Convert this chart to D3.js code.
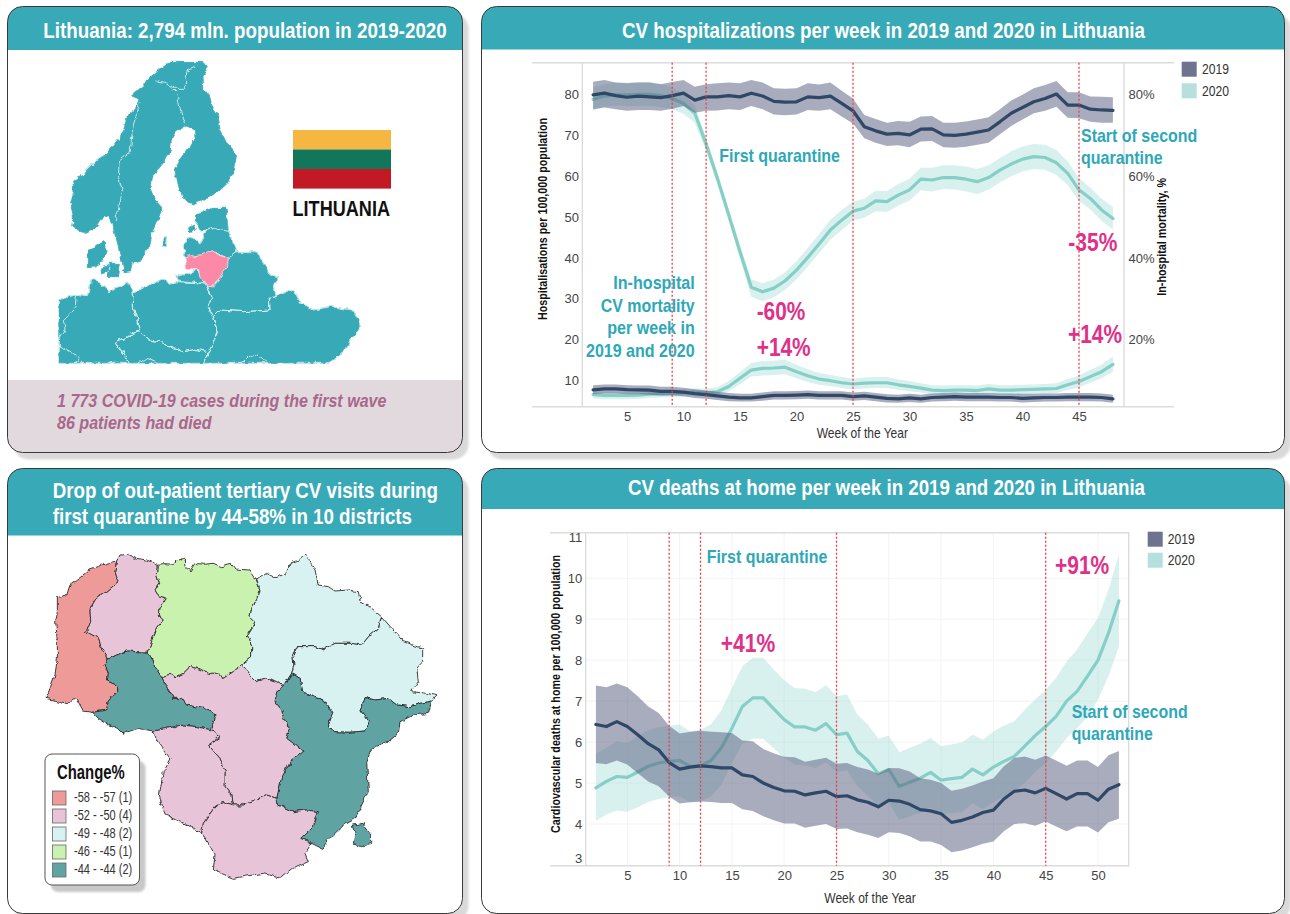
<!DOCTYPE html>
<html><head><meta charset="utf-8">
<script src="https://cdn.jsdelivr.net/npm/d3@7"></script>
<style>html,body{margin:0;padding:0;background:#fff}svg{display:block}
text{font-family:"Liberation Sans Narrow","Liberation Sans",Arial,sans-serif}</style></head>
<body><svg id="c" width="1290" height="914"></svg>
<script>
// ---------- chart 1: hospitalisations + mortality ----------
const weeksA=[2,3,4,5,6,7,8,9,10,11,12,13,14,15,16,17,18,19,20,21,22,23,24,25,26,27,28,29,30,31,32,33,34,35,36,37,38,39,40,41,42,43,44,45,46,47,48];
const hosp19=[79.8,80.2,79.6,79.2,79.5,79.3,79.1,79.6,80.2,78.5,79.3,79.3,79.6,79.3,80.2,79.5,78.2,78,78.1,79.3,79.1,79.5,77.7,75.9,72,71,70.2,70.4,70,71.4,71.5,70,69.9,70.2,70.7,71.2,73.2,75.3,76.7,78.1,78.9,80,77.3,77.3,76.3,76.1,76];
const hosp19hi=[83,83.4,82.8,82.6,82.8,82.8,82.4,82.9,83.4,81.8,82.4,82.6,82.8,82.6,83.4,82.8,81.4,81.3,81.4,82.6,82.3,82.8,80.8,78.9,74.9,73.9,73,73.4,73.2,74.5,74.6,73,73,73.3,73.8,74.3,76.3,78.4,79.8,81.4,82.2,83.2,80.4,80.4,79.4,79.3,79.2];
const hosp19lo=[76.3,76.7,76.3,75.9,76.1,76.1,75.9,76.4,77.1,75.4,75.9,76,76.3,76.1,77.1,76.3,75,74.8,75,76.1,75.9,76.3,74.5,72.8,69.2,68.1,67.3,67.5,67,68.4,68.5,67,66.9,67.1,67.6,68.1,70.2,72.2,73.8,75.3,75.9,76.9,74.2,74.1,73.2,73,73];
const hosp20=[78.7,79.5,79.8,79.8,79.9,79.9,79.6,78.9,77.7,75.3,67.8,59.4,50.5,41.5,32.8,31.7,32.6,34.4,37,40.1,43.4,46.8,49.2,51.4,52.1,53.9,53.7,55.3,56.6,59.2,59,59.6,59.6,59.2,58.6,59.6,61.4,62.9,64.1,64.7,64.5,63.2,60.6,56.6,54.5,51.7,49.6];
const hosp20hi=[81.6,82.4,82.8,82.8,82.9,82.9,82.5,81.6,80,77.2,69.3,60.7,51.8,43,34.8,33.8,34.7,36.5,39.2,42.4,45.8,49.3,51.7,53.7,54.4,56.4,56.3,58,59.3,62,62,62.6,62.6,62.3,61.7,62.6,64.4,66,67.2,67.8,67.6,66.3,63.5,59.4,57.2,54.4,52.4];
const hosp20lo=[76,76.9,77.2,77.1,77.1,77,76.8,76.2,75.2,73,66,57.9,49,39.8,30.5,29.4,30.4,32.2,34.8,37.8,41.2,44.4,46.8,49.1,49.8,51.4,51.2,52.7,54,56.5,56.2,56.8,56.7,56.2,55.6,56.6,58.4,59.9,61.1,61.7,61.5,60.2,57.7,53.9,51.8,49,46.9];
const mort19=[7.75,8,8,7.8,7.75,7.7,7.4,7.4,7.2,6.85,6.6,6.3,6,5.8,5.8,6.1,6.4,6.4,6.5,6.6,6.4,6.4,6.4,6.1,6.3,6,5.7,5.55,5.8,5.55,5.9,6,6.1,6,6,6,5.9,5.9,5.7,5.8,5.9,5.9,6,6,6,5.9,5.55];
const mort19hi=[8.9,9.1,9.1,8.9,8.8,8.8,8.5,8.5,8.3,7.9,7.6,7.3,7,6.8,6.8,7.1,7.4,7.4,7.5,7.6,7.4,7.4,7.4,7.1,7.3,7,6.7,6.6,6.8,6.6,6.9,7,7.1,7,7,7,6.9,6.9,6.8,6.8,6.9,6.9,7,7,7,6.9,6.6];
const mort19lo=[6.7,6.9,6.9,6.7,6.7,6.6,6.4,6.4,6.2,5.8,5.6,5.3,5,4.9,4.9,5.1,5.4,5.4,5.5,5.6,5.4,5.4,5.4,5.1,5.3,5,4.7,4.6,4.8,4.6,4.9,5,5.1,5,5,5,4.9,4.9,4.7,4.8,4.9,4.9,5,5,5,4.9,4.6];
const mort20=[6.6,6.4,6.4,6.4,6.5,6.7,6.8,6.9,7,7.2,7.1,7.3,8.6,10.6,12.6,13,13.1,13.3,12.2,11.2,10.4,10,9.5,9.2,9.4,9.5,9.5,9,8.6,8.2,7.7,7.6,7.7,7.7,7.6,8,7.7,7.7,7.8,7.9,8,8.1,9,9.8,11,12.2,14];
const mort20hi=[7.5,7.3,7.3,7.3,7.4,7.6,7.7,7.8,7.9,8.1,8.1,8.4,9.9,12.1,14.3,14.8,14.9,15.1,13.9,12.8,11.9,11.4,10.9,10.5,10.8,10.9,10.9,10.3,9.9,9.4,8.9,8.8,8.9,8.9,8.8,9.2,8.9,8.9,9,9.1,9.2,9.4,10.4,11.3,12.6,13.9,15.9];
const mort20lo=[5.7,5.5,5.5,5.5,5.6,5.8,5.9,6,6.1,6.3,6.2,6.3,7.4,9.2,11,11.3,11.4,11.6,10.6,9.7,9,8.7,8.2,7.9,8.1,8.2,8.2,7.8,7.4,7.1,6.6,6.5,6.6,6.6,6.5,6.9,6.6,6.6,6.7,6.8,6.9,7,7.7,8.4,9.5,10.6,12.2];
// ---------- chart 2: deaths at home ----------
const weeksB=[2,3,4,5,6,7,8,9,10,11,12,13,14,15,16,17,18,19,20,21,22,23,24,25,26,27,28,29,30,31,32,33,34,35,36,37,38,39,40,41,42,43,44,45,46,47,48,49,50,51,52];
const home19=[6.43,6.38,6.5,6.38,6.18,5.96,5.81,5.5,5.34,5.39,5.42,5.4,5.37,5.37,5.2,5.16,5,4.89,4.81,4.8,4.71,4.76,4.8,4.67,4.69,4.59,4.53,4.42,4.58,4.56,4.48,4.35,4.32,4.25,4.04,4.09,4.17,4.28,4.34,4.61,4.8,4.83,4.76,4.87,4.74,4.61,4.74,4.74,4.58,4.85,4.96];
const home19hi=[7.38,7.34,7.43,7.34,7.12,6.87,6.71,6.4,6.21,6.25,6.28,6.25,6.24,6.22,6.04,6.02,5.83,5.73,5.64,5.63,5.52,5.57,5.62,5.47,5.49,5.39,5.33,5.23,5.37,5.36,5.28,5.12,5.08,5,4.81,4.86,4.94,5.04,5.12,5.41,5.61,5.65,5.57,5.67,5.55,5.42,5.55,5.55,5.39,5.68,5.78];
const home19lo=[5.49,5.46,5.55,5.45,5.24,5.04,4.92,4.67,4.5,4.53,4.55,4.54,4.51,4.51,4.36,4.32,4.19,4.09,4.01,4.01,3.91,3.96,4,3.88,3.89,3.8,3.74,3.66,3.8,3.78,3.7,3.57,3.57,3.49,3.31,3.35,3.43,3.52,3.57,3.82,4,4.02,3.96,4.06,3.94,3.82,3.94,3.94,3.79,4.04,4.13];
const home20=[4.88,5.04,5.16,5.14,5.27,5.41,5.49,5.53,5.55,5.41,5.42,5.55,5.86,6.34,6.87,7.08,7.08,6.81,6.55,6.37,6.37,6.29,6.45,6.18,6.22,5.77,5.55,5.23,5.33,4.92,5.02,5.12,5.26,5.07,5.11,5.14,5.34,5.2,5.39,5.53,5.65,5.9,6.16,6.38,6.63,7,7.24,7.61,8,8.66,9.45];
const home20hi=[5.72,5.86,6.02,5.98,6.14,6.29,6.37,6.4,6.43,6.26,6.3,6.43,6.78,7.32,7.85,8.06,8.06,7.77,7.51,7.32,7.3,7.22,7.39,7.12,7.16,6.67,6.43,6.08,6.16,5.75,5.86,5.96,6.1,5.9,5.94,5.99,6.18,6.06,6.26,6.4,6.51,6.79,7.04,7.28,7.57,7.97,8.26,8.66,9.03,9.72,10.58];
const home20lo=[4.08,4.23,4.33,4.3,4.41,4.54,4.61,4.66,4.67,4.53,4.55,4.67,4.96,5.49,5.96,6.08,6.08,5.85,5.61,5.45,5.43,5.37,5.51,5.27,5.31,4.92,4.69,4.41,4.51,4.1,4.19,4.27,4.41,4.23,4.27,4.29,4.51,4.36,4.53,4.67,4.8,5,5.27,5.49,5.77,6.1,6.34,6.63,7.04,7.61,8.34];
// ---------- ticks / labels ----------
const weekTicksA=[5,10,15,20,25,30,35,40,45];
const weekTicksB=[5,10,15,20,25,30,35,40,45,50];
const hospTicks=[10,20,30,40,50,60,70,80];
const mortTicks=[20,40,60,80];
const homeTicks=[3,4,5,6,7,8,9,10,11];
const quarantineWeeks=[9,12,25,45];
const legendYears=["2019","2020"];
// ---------- choropleth ----------
const legendLabels=["-58 - -57 (1)","-52 - -50 (4)","-49 - -48 (2)","-46 - -45 (1)","-44 - -44 (2)"];
const legendColors=["#ee9a98","#e8c4d8","#d8f2f2","#c8f2ae","#60a3a3"];
const districts=[
 {k:0,p:[[350,288],[320,295],[300,302],[270,312],[240,338],[210,360],[200,390],[172,398],[172,440],[167,470],[172,530],[172,580],[165,630],[150,670],[138,700],[205,716],[228,698],[250,738],[278,742],[320,735],[325,705],[350,680],[350,660],[322,648],[325,625],[315,600],[325,582],[305,550],[295,520],[260,500],[272,470],[270,435],[290,400],[320,380],[355,350],[345,320]]},
 {k:1,p:[[350,288],[360,270],[385,268],[410,280],[440,285],[472,298],[470,330],[478,355],[465,375],[475,392],[496,398],[490,415],[478,425],[475,450],[490,465],[470,490],[455,530],[445,562],[410,560],[380,558],[350,570],[325,582],[305,550],[295,520],[260,500],[272,470],[270,435],[290,400],[320,380],[355,350],[345,320]]},
 {k:3,p:[[472,298],[490,296],[520,298],[540,280],[553,285],[555,305],[570,318],[585,295],[610,298],[640,295],[665,305],[695,298],[705,312],[750,315],[770,345],[780,375],[775,395],[755,430],[750,455],[765,470],[755,490],[742,510],[755,540],[755,575],[725,600],[700,620],[670,640],[660,625],[625,625],[600,612],[570,605],[550,625],[525,638],[510,628],[485,635],[465,605],[445,562],[455,530],[470,490],[490,465],[475,450],[478,425],[490,415],[496,398],[475,392],[465,375],[478,355],[470,330]]},
 {k:2,p:[[770,345],[800,325],[825,338],[860,325],[870,295],[895,285],[918,265],[930,290],[945,315],[955,360],[985,365],[1005,378],[1045,375],[1075,380],[1080,405],[1115,430],[1145,455],[1135,490],[1110,510],[1085,540],[1050,535],[1005,535],[970,555],[945,545],[890,545],[878,570],[882,600],[875,625],[850,665],[830,650],[800,640],[770,650],[745,625],[725,600],[755,575],[755,540],[742,510],[755,490],[765,470],[750,455],[755,430],[775,395],[780,375]]},
 {k:2,p:[[1145,455],[1175,490],[1210,530],[1268,550],[1268,590],[1250,610],[1255,650],[1235,680],[1280,685],[1312,692],[1295,708],[1260,715],[1230,725],[1190,720],[1165,700],[1125,705],[1095,698],[1080,735],[1108,770],[1095,798],[1050,802],[1000,800],[985,780],[998,745],[970,705],[940,695],[908,680],[900,640],[875,625],[882,600],[878,570],[890,545],[945,545],[970,555],[1005,535],[1050,535],[1085,540],[1110,510],[1135,490]]},
 {k:4,p:[[875,625],[900,640],[908,680],[940,695],[970,705],[998,745],[985,780],[1000,800],[1050,802],[1095,798],[1108,770],[1080,735],[1095,698],[1125,705],[1165,700],[1190,720],[1230,725],[1260,715],[1295,708],[1285,745],[1240,750],[1200,770],[1195,805],[1165,830],[1115,850],[1100,890],[1105,980],[1085,1020],[1065,1060],[1030,1080],[990,1120],[965,1150],[935,1135],[905,1120],[940,1085],[955,1040],[920,1035],[880,1040],[835,1020],[830,1000],[845,935],[870,890],[910,860],[880,835],[860,820],[870,790],[850,760],[845,735],[825,710],[830,680],[850,665]]},
 {k:4,p:[[1060,1080],[1090,1075],[1097,1095],[1112,1105],[1112,1135],[1085,1145],[1060,1135],[1065,1105]]},
 {k:4,p:[[325,582],[350,570],[380,558],[410,560],[445,562],[465,605],[485,635],[500,665],[520,700],[545,700],[560,720],[610,730],[645,745],[635,795],[590,785],[550,780],[500,790],[460,798],[415,790],[370,805],[355,790],[320,775],[295,760],[278,742],[320,735],[325,705],[350,680],[350,660],[322,648],[325,625],[315,600]]},
 {k:1,p:[[485,635],[510,628],[525,638],[550,625],[570,605],[600,612],[625,625],[660,625],[670,640],[700,620],[725,600],[745,625],[770,650],[800,640],[830,650],[850,665],[830,680],[825,710],[845,735],[850,760],[870,790],[860,820],[880,835],[910,860],[870,890],[845,935],[830,1000],[800,990],[770,1005],[730,1020],[700,1020],[695,990],[675,965],[675,920],[660,880],[625,840],[660,815],[635,795],[645,745],[610,730],[560,720],[545,700],[520,700],[500,665]]},
 {k:1,p:[[460,798],[500,790],[550,780],[590,785],[635,795],[660,815],[625,840],[660,880],[675,920],[675,965],[695,990],[700,1020],[670,1010],[645,1025],[610,1075],[605,1105],[560,1080],[495,1050],[478,990],[490,920],[510,880],[470,825]]},
 {k:1,p:[[610,1075],[645,1025],[670,1010],[700,1020],[730,1020],[770,1005],[800,990],[830,1000],[835,1020],[880,1040],[920,1035],[955,1040],[940,1085],[905,1120],[935,1135],[915,1165],[925,1190],[880,1210],[840,1240],[790,1225],[700,1240],[640,1215],[645,1170],[620,1125],[605,1105]]}
];
// ---------- Europe outline ----------
const europe=[
 [[505,187],[612,187],[625,203],[606,225],[608,262],[628,288],[635,318],[655,352],[660,388],[680,430],[710,465],[700,510],[682,550],[650,580],[612,598],[580,615],[545,590],[535,555],[525,510],[545,470],[570,440],[585,410],[583,390],[555,378],[530,392],[514,418],[512,450],[480,505],[455,530],[450,565],[465,600],[492,630],[470,665],[455,700],[450,735],[425,780],[400,785],[395,812],[372,815],[360,760],[345,705],[338,670],[325,650],[300,660],[285,685],[250,700],[215,678],[220,650],[212,610],[222,575],[218,540],[245,530],[260,510],[295,475],[320,465],[345,430],[360,410],[375,385],[385,345],[415,315],[420,295],[395,285],[405,275],[430,262],[440,240],[465,220],[480,205]],
 [[265,750],[283,745],[292,735],[312,725],[318,755],[310,775],[300,790],[285,798],[262,800],[262,775]],
 [[302,800],[325,795],[322,815],[305,822]],[[330,790],[358,790],[352,830],[325,830]],
 [[590,645],[635,625],[678,625],[685,695],[640,685],[600,690],[588,665]],
 [[566,680],[580,672],[586,690],[568,695]],[[488,720],[500,708],[497,735],[487,742]],
 [[555,775],[553,730],[575,712],[600,732],[620,692],[640,685],[685,695],[710,755],[685,775],[640,755],[600,765]],
 [[530,830],[595,812],[600,830],[615,850],[590,848],[535,840]],
 [[685,775],[710,755],[770,755],[790,790],[810,825],[835,830],[820,860],[825,890],[808,895],[810,930],[730,935],[660,930],[640,950],[625,925],[637,895],[622,855],[650,855],[665,820],[680,800]],
 [[640,950],[660,930],[730,935],[810,930],[808,895],[850,880],[880,870],[900,905],[940,930],[990,920],[1060,930],[1075,960],[1080,990],[1050,1020],[1040,1045],[990,1090],[610,1090],[625,1055],[655,995]],
 [[400,880],[445,855],[495,838],[505,850],[530,845],[590,848],[622,855],[637,895],[625,925],[640,950],[655,995],[625,1055],[585,1048],[550,1055],[520,1045],[480,1025],[450,1020],[420,995],[400,920]],
 [[175,900],[225,885],[262,890],[272,838],[300,850],[330,875],[385,850],[400,880],[400,920],[420,995],[345,1025],[390,1090],[175,1090]],
 [[345,1025],[420,995],[450,1020],[480,1025],[520,1045],[550,1055],[585,1048],[625,1055],[610,1090],[390,1090]]
];
const europeBorders=[
 [[470,245],[495,250],[530,280],[545,345],[555,378]],
 [[495,250],[520,265],[555,265],[560,215],[590,198]],
 [[420,310],[400,375],[390,455],[358,480],[355,530],[368,575],[345,665]],
 [[175,1040],[195,1050],[240,1070],[228,1090]],[[230,885],[225,920],[190,960],[195,990],[175,1020]],
 [[725,1090],[745,1070],[770,1062],[805,1090]],[[415,1090],[440,1075],[470,1085]]
];
const lithuania=[[555,775],[575,768],[600,765],[615,760],[635,755],[655,765],[685,775],[683,795],[670,815],[660,835],[640,858],[620,855],[600,832],[597,812],[560,808]];

const svg=d3.select("#c");
const defs=svg.append("defs");
defs.append("filter").attr("id","soft").append("feGaussianBlur").attr("stdDeviation",0.8);
function roughFilter(id,freq,scale){
 const f=defs.append("filter").attr("id",id).attr("x","-5%").attr("y","-5%").attr("width","110%").attr("height","110%").attr("color-interpolation-filters","sRGB");
 f.append("feTurbulence").attr("type","fractalNoise").attr("baseFrequency",freq).attr("numOctaves",2).attr("seed",4).attr("result","n");
 f.append("feDisplacementMap").attr("in","SourceGraphic").attr("in2","n").attr("xChannelSelector","R").attr("yChannelSelector","G").attr("scale",scale);
}
roughFilter("rough",0.16,5);
roughFilter("rough2",0.14,6);

const HEAD="#38a9b7", TEAL="#2ea8b8", PINK="#e0308a";
function txt(g,x,y,s,size,o={}){
  const t=g.append("text").attr("x",x).attr("y",y).attr("font-size",size).text(s)
    .attr("fill",o.fill||"#222").attr("font-weight",o.bold?"bold":"normal");
  if(o.italic)t.attr("font-style","italic");
  if(o.anchor)t.attr("text-anchor",o.anchor);
  if(o.w)t.attr("textLength",o.w).attr("lengthAdjust","spacingAndGlyphs");
  if(o.rot)t.attr("transform",`rotate(-90 ${x} ${y})`);
  return t;
}
function panel(id,x,y,w,h,hh){
  const g=svg.append("g");
  g.append("rect").attr("x",x+6).attr("y",y+7).attr("width",w).attr("height",h).attr("rx",15).attr("fill","#d9d9d9").attr("filter","url(#soft)");
  g.append("rect").attr("x",x).attr("y",y).attr("width",w).attr("height",h).attr("rx",15).attr("fill","#fff");
  defs.append("clipPath").attr("id",id).append("rect").attr("x",x).attr("y",y).attr("width",w).attr("height",h).attr("rx",15);
  g.append("rect").attr("x",x).attr("y",y).attr("width",w).attr("height",hh).attr("fill",HEAD).attr("clip-path",`url(#${id})`);
  return ()=>svg.append("rect").attr("x",x).attr("y",y).attr("width",w).attr("height",h).attr("rx",15).attr("fill","none").attr("stroke","#3a3a3a").attr("stroke-width",1);
}
const b1=panel("p1",7.5,6.5,455,446,43.5);
const b2=panel("p2",481.5,6.5,803,446,43);
const b3=panel("p3",7.5,468.5,455,445,67);
const b4=panel("p4",481.5,468.5,803,445,40.5);

// ---- panel 1
svg.append("rect").attr("x",8).attr("y",380).attr("width",454).attr("height",72).attr("fill","#e2d9df").attr("clip-path","url(#p1)");
txt(svg,43.3,38,"Lithuania: 2,794 mln. population in 2019-2020",21.5,{fill:"#fff",bold:true,w:403.4});
const zx=d3.scaleLinear().domain([0,1410]).range([0,470]);
const zy=d3.scaleLinear().domain([0,1380]).range([0,460]);
const eline=d3.line().x(d=>zx(d[0])).y(d=>zy(d[1]));
const em=svg.append("g").attr("filter","url(#rough2)");
em.selectAll("path.e").data(europe).join("path").attr("class","e").attr("d",d=>eline(d)+"Z").attr("fill","#38a9b7").attr("stroke","#38a9b7").attr("stroke-width",0.8).attr("stroke-linejoin","round");
em.selectAll("path.i").data(europe.slice(6)).join("path").attr("class","i").attr("d",d=>eline(d)+"Z").attr("fill","none").attr("stroke","#d8f0f2").attr("stroke-width",0.9).attr("stroke-linejoin","round");
em.selectAll("path.b").data(europeBorders).join("path").attr("class","b").attr("d",d=>eline(d)).attr("fill","none").attr("stroke","#d8f0f2").attr("stroke-width",0.9);
em.append("path").attr("d",eline(lithuania)+"Z").attr("fill","#fc8aa6").attr("stroke","#ffd9e2").attr("stroke-width",0.8);
// white-out the straight map crop edges
svg.append("rect").attr("x",40).attr("y",364).attr("width",340).attr("height",15).attr("fill","#fff");
svg.append("rect").attr("x",46).attr("y",280).attr("width",12.3).attr("height",90).attr("fill","#fff");
const flagColors=["#f5b642","#12765a","#c21a24"];
svg.selectAll("rect.flag").data(flagColors).join("rect").attr("class","flag").attr("x",293).attr("width",98).attr("y",(d,i)=>130+i*19.5).attr("height",19.6).attr("fill",d=>d);
txt(svg,292.5,216,"LITHUANIA",22,{fill:"#111",bold:true,w:97.5});
txt(svg,57,406.7,"1 773 COVID-19 cases during the first wave",19,{fill:"#a8688a",bold:true,italic:true,w:329.5});
txt(svg,57,429,"86 patients had died",19,{fill:"#a8688a",bold:true,italic:true,w:154.5});

// ---- panel 3
txt(svg,52.7,498,"Drop of out-patient tertiary CV visits during",21.5,{fill:"#fff",bold:true,w:385.3});
txt(svg,52.7,524.3,"first quarantine by 44-58% in 10 districts",21.5,{fill:"#fff",bold:true,w:359.3});
const dx=d3.scaleLinear().domain([0,1410]).range([0,470]);
const dy=d3.scaleLinear().domain([0,1347]).range([465,914]);
const dline=d3.line().x(d=>dx(d[0])).y(d=>dy(d[1]));
svg.append("g").attr("filter","url(#rough)").selectAll("path").data(districts).join("path")
  .attr("d",d=>dline(d.p)+"Z").attr("fill",d=>legendColors[d.k]).attr("stroke","#2b2b2b").attr("stroke-width",0.9).attr("stroke-linejoin","round");
svg.append("rect").attr("x",51).attr("y",761).attr("width",94.5).attr("height",131).attr("rx",7).attr("fill","#c8c8c8").attr("filter","url(#soft)");
svg.append("rect").attr("x",45).attr("y",754).attr("width",94.5).attr("height",131).attr("rx",7).attr("fill","#fff").attr("stroke","#555").attr("stroke-width",1);
txt(svg,57,779,"Change%",20,{fill:"#111",bold:true,w:67.7});
const lg=svg.selectAll("g.lg").data(legendLabels).join("g").attr("class","lg");
lg.append("rect").attr("x",52.5).attr("y",(d,i)=>791+i*18).attr("width",13.5).attr("height",14).attr("fill",(d,i)=>legendColors[i]).attr("stroke","#666").attr("stroke-width",0.8);
lg.each(function(d,i){txt(d3.select(this),74,802+i*18,d,14.5,{fill:"#333",w:58.3});});

// ---- chart helper
function series(g,x,y,weeks,line,hi,lo,col,lineCol,opacity,lw){
  const idx=weeks.map((w,i)=>i);
  g.append("path").attr("d",d3.area().x(i=>x(weeks[i])).y0(i=>y(lo[i])).y1(i=>y(hi[i]))(idx)).attr("fill",col).attr("fill-opacity",opacity);
  g.append("path").attr("d",d3.line().x(i=>x(weeks[i])).y(i=>y(line[i]))(idx)).attr("fill","none").attr("stroke",lineCol).attr("stroke-width",lw).attr("stroke-linejoin","round").attr("stroke-linecap","round");
}
function styleAxis(a,size){
  a.select(".domain").remove();
  a.selectAll(".tick line").remove();
  a.selectAll("text").attr("font-size",size).attr("fill","#444").attr("font-family",'"Liberation Sans Narrow","Liberation Sans",sans-serif');
}
const C19="#5b5f80",C20="#8fd3ce",L19="#2f4868",L20="#85cfc7";
function legendBlock(g,x,ys,lx){
  g.selectAll("rect.l").data(legendYears).join("rect").attr("class","l").attr("x",x).attr("y",(d,i)=>ys[i]).attr("width",15).attr("height",15).attr("fill",(d,i)=>i?"#b5e0de":"#6e7490");
  legendYears.forEach((d,i)=>txt(g,lx,ys[i]+12.6,d,14.5,{fill:"#333",w:27}));
}
function qLines(g,x,top,bot){
  g.selectAll("line.q").data(quarantineWeeks).join("line").attr("class","q").attr("x1",d=>x(d)).attr("x2",d=>x(d)).attr("y1",top).attr("y2",bot).attr("stroke","#e8404a").attr("stroke-width",1.3).attr("stroke-dasharray","2 2");
}

// ---- chart 1
{
 const g=svg.append("g");
 const x=d3.scaleLinear().domain([5,45]).range([627,1079]);
 const y=d3.scaleLinear().domain([10,80]).range([380.7,94]);
 const top=62.7,bot=406.7;
 g.append("path").attr("d",`M532,${top}H1174M532,${bot}H1174`).attr("stroke","#dcdcdc").attr("stroke-width",1.4).attr("fill","none");
 g.append("path").attr("d",`M582.3,${top}V${bot}M1124,${top}V${bot}`).attr("stroke","#dcdcdc").attr("stroke-width",1.4).attr("fill","none");
 series(g,x,y,weeksA,hosp20,hosp20hi,hosp20lo,C20,L20,0.35,3.2);
 series(g,x,y,weeksA,mort20,mort20hi,mort20lo,C20,L20,0.35,3.2);
 series(g,x,y,weeksA,hosp19,hosp19hi,hosp19lo,C19,L19,0.52,3.2);
 series(g,x,y,weeksA,mort19,mort19hi,mort19lo,C19,L19,0.52,3.2);
 qLines(g,x,top,bot);
 const ax=g.append("g").attr("transform",`translate(0,${bot})`).call(d3.axisBottom(x).tickValues(weekTicksA).tickSize(0).tickPadding(5)); styleAxis(ax,13);
 const ay=g.append("g").attr("transform","translate(579,0)").call(d3.axisLeft(y).tickValues(hospTicks).tickSize(0).tickPadding(0)); styleAxis(ay,13);
 const ar=g.append("g").attr("transform","translate(1128.5,0)").call(d3.axisRight(y).tickValues(mortTicks).tickSize(0).tickPadding(0).tickFormat(d=>d+"%")); styleAxis(ar,13);
 txt(g,546.7,320,"Hospitalisations per 100,000 population",12.5,{fill:"#111",bold:true,rot:true,w:202});
 txt(g,1166,295.7,"In-hospital mortality, %",12.5,{fill:"#111",bold:true,rot:true,w:117.7});
 txt(g,816.7,437.7,"Week of the Year",14.5,{fill:"#333",w:91.3});
 legendBlock(g,1181.7,[61.7,83.3],1202);
 const ann=[["First quarantine",719.3,161.7,120.7],["In-hospital",613.3,289.3,81.4],["CV mortality",600.7,311.7,94],["per week in",607.3,334,87.4],["2019 and 2020",586,356.7,108.7],["Start of second",1081,141.7,116.3],["quarantine",1081,164.3,81.7]];
 ann.forEach(a=>txt(g,a[1],a[2],a[0],19,{fill:TEAL,bold:true,w:a[3]}));
 const pct=[["-60%",756.7,320,48.6],["+14%",756.7,355.7,54],["-35%",1068.3,251,49],["+14%",1068,343.3,54]];
 pct.forEach(a=>txt(g,a[1],a[2],a[0],25,{fill:PINK,bold:true,w:a[3]}));
}
// ---- chart 2
{
 const g=svg.append("g");
 const x=d3.scaleLinear().domain([5,50]).range([627.3,1098]);
 const y=d3.scaleLinear().domain([4,10]).range([824,578.3]);
 const top=532.7,bot=865.7,left=585.7,right=1128.7;
 g.append("g").selectAll("line").data(weekTicksB).join("line").attr("x1",d=>x(d)).attr("x2",d=>x(d)).attr("y1",top).attr("y2",bot).attr("stroke","#f3f3f3");
 g.append("g").selectAll("line").data(homeTicks.slice(1,-1)).join("line").attr("x1",left).attr("x2",right).attr("y1",d=>y(d)).attr("y2",d=>y(d)).attr("stroke","#f3f3f3");
 g.append("path").attr("d",`M550,${top}H${right}V${bot}H550M${left},${top}V${bot}`).attr("stroke","#dcdcdc").attr("stroke-width",1.4).attr("fill","none");
 series(g,x,y,weeksB,home20,home20hi,home20lo,C20,L20,0.35,3.2);
 series(g,x,y,weeksB,home19,home19hi,home19lo,C19,L19,0.52,3.2);
 qLines(g,x,top,bot);
 const ax=g.append("g").attr("transform",`translate(0,${bot})`).call(d3.axisBottom(x).tickValues(weekTicksB).tickSize(0).tickPadding(5)); styleAxis(ax,13);
 const ay=g.append("g").attr("transform","translate(582.3,0)").call(d3.axisLeft(y).tickValues(homeTicks).tickSize(0).tickPadding(0).tickFormat(d3.format("d"))); styleAxis(ay,13);
 ay.selectAll(".tick text").attr("dy",d=>d===3?"-0.2em":"0.32em");
 txt(g,560,833,"Cardiovascular deaths at home per 100,000 population",12.5,{fill:"#111",bold:true,rot:true,w:278});
 txt(g,824.3,903.3,"Week of the Year",14.5,{fill:"#333",w:91.4});
 legendBlock(g,1147.7,[531.7,552.7],1167.7);
 const ann=[["First quarantine",706.7,562.7,120.6],["Start of second",1071.7,717.7,116],["quarantine",1071.7,740,81]];
 ann.forEach(a=>txt(g,a[1],a[2],a[0],19,{fill:TEAL,bold:true,w:a[3]}));
 const pct=[["+41%",720.7,651.7,54.6],["+91%",1055,574.3,54.3]];
 pct.forEach(a=>txt(g,a[1],a[2],a[0],25,{fill:PINK,bold:true,w:a[3]}));
}
txt(svg,622,38,"CV hospitalizations per week in 2019 and 2020 in Lithuania",21.5,{fill:"#fff",bold:true,w:523});
txt(svg,628,495,"CV deaths at home per week in 2019 and 2020 in Lithuania",21.5,{fill:"#fff",bold:true,w:517});
b1();b2();b3();b4();
</script></body></html>
